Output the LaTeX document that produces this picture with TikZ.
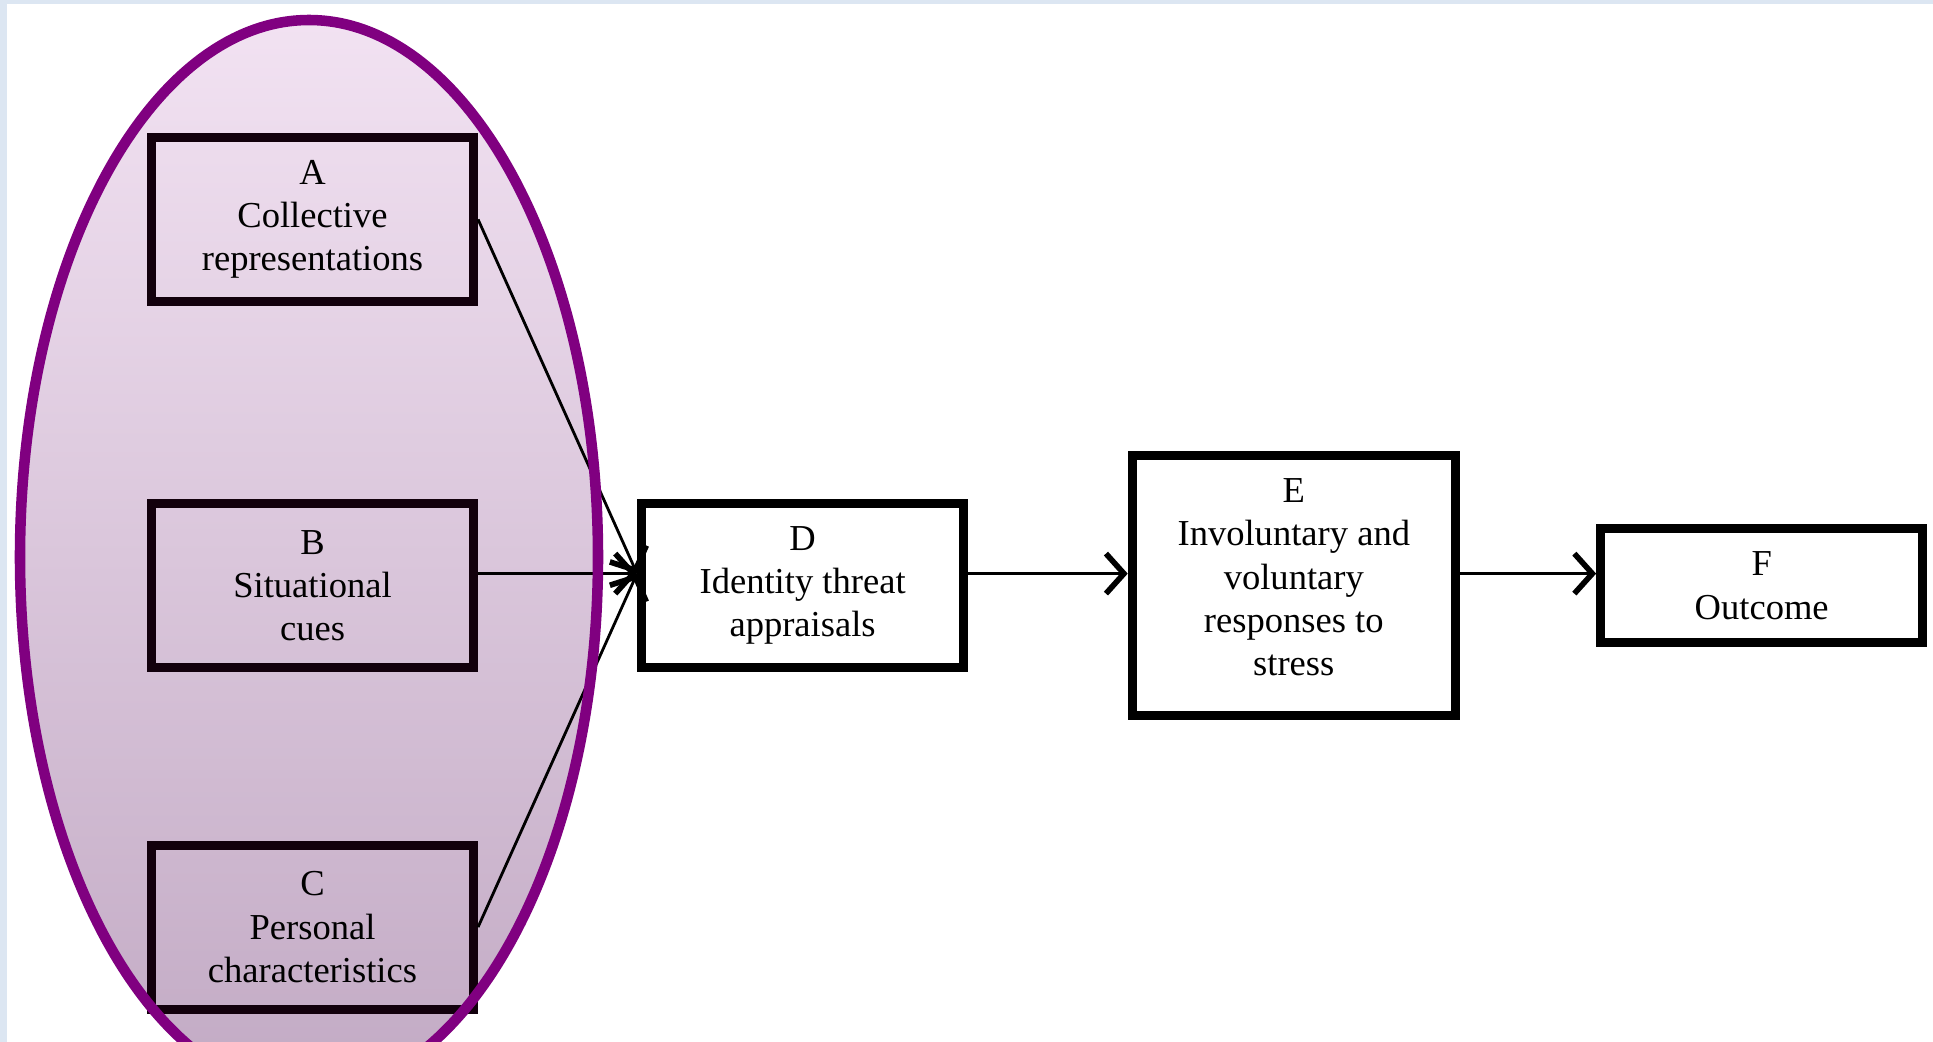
\documentclass[tikz,border=0pt]{standalone}
\usepackage{fontspec}
\setmainfont{Liberation Serif}
\usetikzlibrary{arrows.meta, positioning, shapes.geometric}
\definecolor{pageband}{RGB}{220,230,242}
\definecolor{groupline}{RGB}{128,0,128}
\definecolor{grouptop}{RGB}{242,226,242}
\definecolor{groupbottom}{RGB}{194,170,196}
\definecolor{boxline}{RGB}{18,0,12}

\begin{document}
\begin{tikzpicture}[
  factor/.style={draw=boxline, rectangle, line width=2.6pt, minimum width=3.22cm, minimum height=1.64cm, inner sep=0pt, align=center, font=\fontsize{10.4pt}{12.3pt}\selectfont},
  stage/.style={factor, draw=black, fill=white},
  flow/.style={-{Straight Barb[length=1.8mm, width=4mm, line width=1.6pt]}, line width=0.8pt}
]
  % Page frame
  \clip (0,0) rectangle (19.33,-10.42);
  \fill[white] (0,0) rectangle (19.33,-10.42);
  \fill[pageband] (0,0) rectangle (19.33,-0.04);
  \fill[pageband] (0,0) rectangle (0.07,-10.42);

  % Group shading behind the antecedents
  \shade[top color=grouptop, bottom color=groupbottom] (3.09,-5.57) ellipse (2.89cm and 5.37cm);

  % Antecedents
  \node[factor] (a) at (3.125,-2.194) {A\\Collective\\representations};
  \node[factor] (b) at (3.125,-5.856) {B\\Situational\\cues};
  \node[factor] (c) at (3.125,-9.271) {C\\Personal\\characteristics};

  % Process
  \node[stage] (d) at (8.026,-5.856) {D\\Identity threat\\appraisals};
  \node[stage, minimum width=3.23cm, minimum height=2.60cm, text depth=1.7mm] (e) at (12.938,-5.856) {E\\Involuntary and\\voluntary\\responses to\\stress};
  \node[stage, minimum height=1.14cm] (f) at (17.617,-5.856) {F\\Outcome};

  % Arrows
  \draw[flow] (a.east) -- ([yshift=1.2mm]d.west);
  \draw[flow] ([yshift=1.2mm]b.east) -- ([yshift=1.2mm]d.west);
  \draw[flow] (c.east) -- ([yshift=1.2mm]d.west);
  \draw[flow] ([yshift=1.2mm]d.east) -- ([yshift=1.2mm]e.west);
  \draw[flow] ([yshift=1.2mm]e.east) -- ([yshift=1.2mm]f.west);

  % Group outline on top
  \draw[groupline, line width=3pt] (3.09,-5.57) ellipse (2.89cm and 5.37cm);
\end{tikzpicture}
\end{document}
